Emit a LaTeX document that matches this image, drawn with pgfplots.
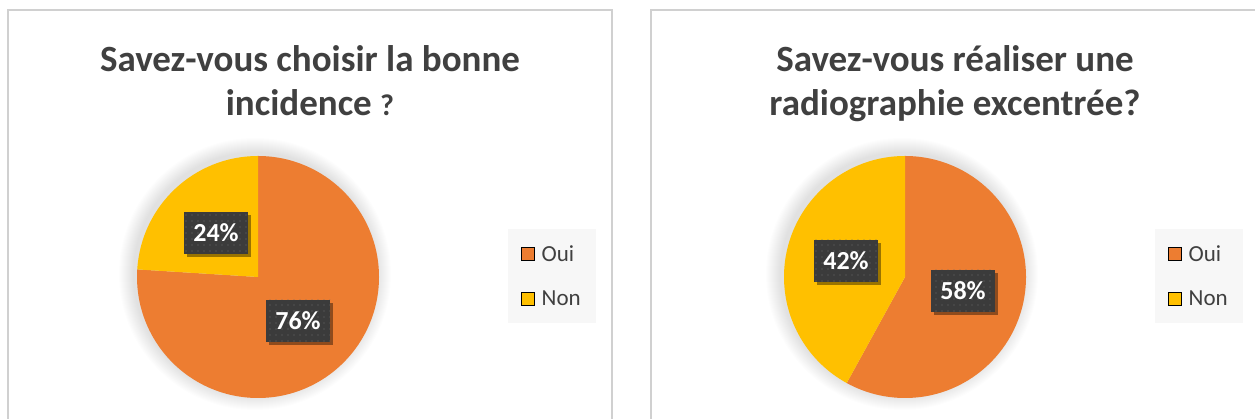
\documentclass[border=0pt]{standalone}
\usepackage{pgfplots}
\pgfplotsset{compat=1.18}
\usepackage{pgfplotstable}
\usepackage{fontspec}
\setmainfont{Carlito}
\usetikzlibrary{shadows,patterns.meta}
\definecolor{oui}{HTML}{ED7D31}
\definecolor{non}{HTML}{FFC000}
\definecolor{txt}{HTML}{404040}
\definecolor{lblbg}{HTML}{3B3B3B}
\definecolor{frame}{HTML}{D0D0D0}
\definecolor{legbg}{HTML}{F7F7F7}

\pgfplotstableread{
rep pct
Oui 76
Non 24
}\pieA
\pgfplotstableread{
rep pct
Oui 58
Non 42
}\pieB

\tikzset{
  lbl/.style={fill=lblbg, text=white, font=\bfseries\fontsize{26}{26}\selectfont,
    minimum width=64pt, minimum height=42pt, inner sep=0pt,
    drop shadow={shadow xshift=3pt, shadow yshift=-3pt, opacity=0.4, fill=black},
    postaction={pattern={Dots[distance=6pt, radius=0.7pt]}, pattern color=white!25!lblbg}},
  ttl/.style={font=\bfseries\fontsize{37}{44}\selectfont, text=txt, anchor=base}
}
\pgfplotsset{
  piestyle/.style={x=1pt, y=1pt, xmin=-130, xmax=130, ymin=-130, ymax=130,
    hide axis, clip=false, anchor=origin,
    legend cell align=left,
    legend image code/.code={\fill[##1] (0pt,-6.5pt) rectangle (13pt,6.5pt);},
    legend style={anchor=center, fill=legbg, draw=none,
      font=\fontsize{23}{23}\selectfont, text=txt, row sep=24pt, column sep=5pt,
      inner xsep=13pt, inner ysep=14pt}}
}

\begin{document}
\begin{tikzpicture}[x=1pt, y=1pt]
\useasboundingbox (0,0) rectangle (1255,419);
\fill[white] (0,0) rectangle (1255,419);
\draw[frame, line width=1.5pt] (8,-5) -- (8,409) -- (612,409) -- (612,-5);
\draw[frame, line width=1.5pt] (651,-5) -- (651,409) -- (1265,409);

\pgfplotstablegetelem{0}{pct}\of\pieA
\pgfmathsetmacro{\splitA}{90-3.6*\pgfplotsretval}
\pgfplotstablegetelem{0}{pct}\of\pieB
\pgfmathsetmacro{\splitB}{90-3.6*\pgfplotsretval}

\node[ttl] at (310,347) {Savez-vous choisir la bonne};
\node[ttl] at (310,303) {incidence {\fontsize{30}{30}\selectfont ?}};
\node[ttl] at (955,347) {Savez-vous réaliser une};
\node[ttl] at (955,303) {radiographie excentrée?};

\foreach \r in {122,...,136} {
  \fill[black, opacity=0.008] (255,145) circle (\r);
  \fill[black, opacity=0.008] (902,145) circle (\r);
}

\begin{axis}[piestyle, at={(258,142)}, legend style={at={(axis cs:294,1)}}]
\addlegendimage{fill=oui}\addlegendentry{Oui}
\addlegendimage{fill=non}\addlegendentry{Non}
\fill[oui] (axis cs:0,0) -- (axis cs:0,121) arc[start angle=90, end angle=\splitA, radius=121pt] -- cycle;
\fill[non] (axis cs:0,0) -- (axis cs:0,121) arc[start angle=90, end angle=\splitA+360, radius=121pt] -- cycle;
\node[lbl] at (axis cs:-42,44) {24\%};
\node[lbl] at (axis cs:40,-44) {76\%};
\end{axis}

\begin{axis}[piestyle, at={(905,142)}, legend style={at={(axis cs:294,1)}}]
\addlegendimage{fill=oui}\addlegendentry{Oui}
\addlegendimage{fill=non}\addlegendentry{Non}
\fill[oui] (axis cs:0,0) -- (axis cs:0,121) arc[start angle=90, end angle=\splitB, radius=121pt] -- cycle;
\fill[non] (axis cs:0,0) -- (axis cs:0,121) arc[start angle=90, end angle=\splitB+360, radius=121pt] -- cycle;
\node[lbl] at (axis cs:-59,16) {42\%};
\node[lbl] at (axis cs:58,-14) {58\%};
\end{axis}
\end{tikzpicture}
\end{document}
